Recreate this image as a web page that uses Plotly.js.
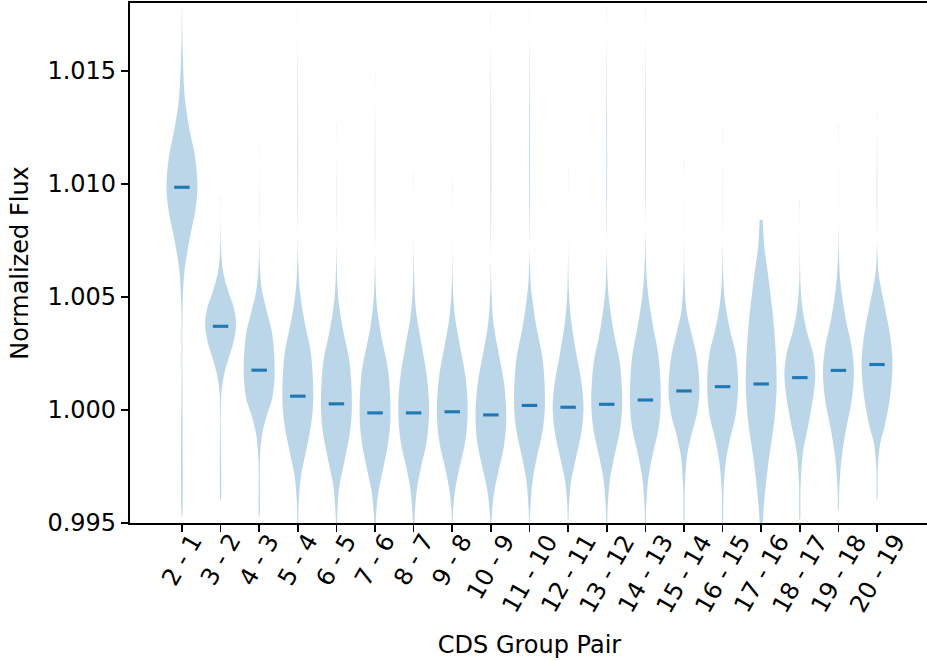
<!DOCTYPE html>
<html>
<head>
<meta charset="utf-8">
<script src="https://cdn.plot.ly/plotly-3.0.1.min.js"></script>
<style>
html, body { margin: 0; padding: 0; overflow: hidden; background: #fff; }
#chart { width: 929px; height: 661px; }
</style>
</head>
<body>
<div id="chart"></div>
<script>
// Category labels (x axis)
const categories = ['2 - 1', '3 - 2', '4 - 3', '5 - 4', '6 - 5', '7 - 6', '8 - 7', '9 - 8', '10 - 9',
  '11 - 10', '12 - 11', '13 - 12', '14 - 13', '15 - 14', '16 - 15', '17 - 16', '18 - 17', '19 - 18', '20 - 19'];

// Median normalized flux of each pair
const medians = [1.00985, 1.00370, 1.00176, 1.00061, 1.00027, 0.99987, 0.99987, 0.99992, 0.99978,
  1.00020, 1.00012, 1.00025, 1.00044, 1.00084, 1.00103, 1.00115, 1.00143, 1.00175, 1.00201];

// Density outline of each violin: flux levels (top to bottom) ...
const profileY = [
  [1.01787, 1.01580, 1.01373, 1.01237, 1.01118, 1.00982, 1.00876, 1.00757, 1.00634, 1.00480, 0.99525],
  [1.00951, 1.00687, 1.00599, 1.00524, 1.00454, 1.00379, 1.00304, 1.00225, 1.00146, 1.00062, 0.99600],
  [1.01171, 1.00621, 1.00524, 1.00436, 1.00335, 1.00172, 1.00053, 0.99978, 0.99895, 0.99785, 0.99525],
  [1.01769, 1.00612, 1.00489, 1.00370, 1.00251, 1.00049, 0.99930, 0.99807, 0.99706, 0.99578, 0.99468],
  [1.01272, 1.00572, 1.00449, 1.00330, 1.00212, 1.00009, 0.99890, 0.99767, 0.99666, 0.99538, 0.99424],
  [1.01492, 1.00537, 1.00414, 1.00295, 1.00176, 0.99974, 0.99855, 0.99732, 0.99631, 0.99512, 0.99402],
  [1.01052, 1.00546, 1.00414, 1.00295, 1.00150, 1.00005, 0.99864, 0.99754, 0.99644, 0.99512, 0.99402],
  [1.01008, 1.00524, 1.00401, 1.00282, 1.00150, 0.99996, 0.99864, 0.99754, 0.99653, 0.99556, 0.99490],
  [1.01756, 1.00502, 1.00370, 1.00251, 1.00119, 0.99965, 0.99842, 0.99732, 0.99631, 0.99521, 0.99424],
  [1.01769, 1.00590, 1.00480, 1.00348, 1.00225, 1.00027, 0.99908, 0.99798, 0.99688, 0.99556, 0.99512],
  [1.01065, 1.00524, 1.00392, 1.00260, 1.00128, 1.00009, 0.99899, 0.99785, 0.99688, 0.99578, 0.99512],
  [1.01787, 1.00577, 1.00458, 1.00326, 1.00207, 1.00027, 0.99908, 0.99798, 0.99688, 0.99556, 0.99490],
  [1.01787, 1.00634, 1.00502, 1.00370, 1.00238, 1.00040, 0.99917, 0.99811, 0.99701, 0.99569, 0.99490],
  [1.01109, 1.00546, 1.00423, 1.00335, 1.00225, 1.00084, 0.99987, 0.99895, 0.99798, 0.99653, 0.99503],
  [1.01241, 1.00577, 1.00458, 1.00348, 1.00251, 1.00115, 0.99978, 0.99877, 0.99767, 0.99635, 0.99490],
  [1.00841, 1.00722, 1.00568, 1.00348, 1.00115, 0.99952, 0.99785, 0.99600, 0.99503, 0.99402],
  [1.00933, 1.00546, 1.00436, 1.00335, 1.00251, 1.00159, 1.00049, 0.99917, 0.99811, 0.99666, 0.99512],
  [1.01259, 1.00647, 1.00524, 1.00392, 1.00282, 1.00172, 1.00040, 0.99917, 0.99785, 0.99644, 0.99556],
  [1.01329, 1.00647, 1.00559, 1.00458, 1.00326, 1.00203, 1.00062, 0.99930, 0.99851, 0.99750, 0.99600]
];
// ... and relative density (fraction of the widest point) at those levels
const profileW = [
  [0.008, 0.05, 0.2, 0.5, 0.85, 1, 0.85, 0.5, 0.2, 0.05, 0.006],
  [0.008, 0.05, 0.2, 0.5, 0.85, 1, 0.85, 0.5, 0.2, 0.05, 0.008],
  [0.008, 0.05, 0.2, 0.5, 0.85, 1, 0.85, 0.5, 0.2, 0.05, 0.008],
  [0.008, 0.05, 0.2, 0.5, 0.85, 1, 0.85, 0.5, 0.2, 0.05, 0.008],
  [0.008, 0.05, 0.2, 0.5, 0.85, 1, 0.85, 0.5, 0.2, 0.05, 0.008],
  [0.008, 0.05, 0.2, 0.5, 0.85, 1, 0.85, 0.5, 0.2, 0.05, 0.008],
  [0.008, 0.05, 0.2, 0.5, 0.85, 1, 0.85, 0.5, 0.2, 0.05, 0.008],
  [0.008, 0.05, 0.2, 0.5, 0.85, 1, 0.85, 0.5, 0.2, 0.05, 0.008],
  [0.008, 0.05, 0.2, 0.5, 0.85, 1, 0.85, 0.5, 0.2, 0.05, 0.008],
  [0.008, 0.05, 0.2, 0.5, 0.85, 1, 0.85, 0.5, 0.2, 0.05, 0.008],
  [0.008, 0.05, 0.2, 0.5, 0.85, 1, 0.85, 0.5, 0.2, 0.05, 0.008],
  [0.008, 0.05, 0.2, 0.5, 0.85, 1, 0.85, 0.5, 0.2, 0.05, 0.008],
  [0.008, 0.05, 0.2, 0.5, 0.85, 1, 0.85, 0.5, 0.2, 0.05, 0.008],
  [0.008, 0.05, 0.2, 0.5, 0.85, 1, 0.85, 0.5, 0.2, 0.05, 0.008],
  [0.008, 0.05, 0.2, 0.5, 0.85, 1, 0.85, 0.5, 0.2, 0.05, 0.008],
  [0.1, 0.2, 0.5, 0.85, 1, 0.85, 0.5, 0.2, 0.1, 0.03],
  [0.008, 0.05, 0.2, 0.5, 0.85, 1, 0.85, 0.5, 0.2, 0.05, 0.008],
  [0.008, 0.05, 0.2, 0.5, 0.85, 1, 0.85, 0.5, 0.2, 0.05, 0.008],
  [0.008, 0.05, 0.2, 0.5, 0.85, 1, 0.85, 0.5, 0.2, 0.05, 0.008]
];

const yTicks = [0.995, 1.000, 1.005, 1.010, 1.015];

// ---- drawing ----
const VIOLIN_HALF = 0.4;   // half of the violin width (x units)
const MEDIAN_HALF = 0.2;   // half length of the median bar
const C0 = '#1f77b4';
const FONT = 'DejaVu Sans, sans-serif';

const positions = categories.map((c, i) => i + 1);
const traces = [];

categories.forEach((cat, i) => {
  const p = positions[i];
  const ys = profileY[i], ws = profileW[i];
  const xr = ws.map(w => p + w * VIOLIN_HALF);
  const xl = ws.map(w => p - w * VIOLIN_HALF).reverse();
  traces.push({
    type: 'scatter', mode: 'lines',
    x: xr.concat(xl),
    y: ys.concat(ys.slice().reverse()),
    fill: 'toself',
    fillcolor: 'rgba(31,119,180,0.3)',
    line: { width: 0, shape: 'spline', smoothing: 1, color: 'rgba(31,119,180,0)' },
    hoverinfo: 'skip', showlegend: false, name: cat
  });
});

const mx = [], my = [];
categories.forEach((cat, i) => {
  mx.push(positions[i] - MEDIAN_HALF, positions[i] + MEDIAN_HALF, null);
  my.push(medians[i], medians[i], null);
});
traces.push({
  type: 'scatter', mode: 'lines', x: mx, y: my,
  line: { color: C0, width: 3.1 }, hoverinfo: 'skip', showlegend: false, name: 'median'
});

// rotated category labels, centred under each tick (matplotlib style)
const annotations = categories.map((cat, i) => ({
  x: positions[i], xref: 'x', y: 0, yref: 'paper',
  text: cat, textangle: -60, showarrow: false,
  xanchor: 'center', yanchor: 'top', yshift: -4,
  font: { family: FONT, size: 24, color: '#000' }
}));

const layout = {
  width: 929, height: 661,
  margin: { l: 130, r: 0, t: 3, b: 138 },
  paper_bgcolor: '#ffffff', plot_bgcolor: '#ffffff',
  font: { family: FONT, size: 24, color: '#000' },
  showlegend: false,
  annotations: annotations,
  xaxis: {
    range: [-0.345, 20.345],
    tickmode: 'array', tickvals: positions, ticktext: categories,
    showticklabels: false,
    ticks: 'outside', ticklen: 7.5, tickwidth: 1.6, tickcolor: '#000',
    showline: true, linewidth: 1.6, linecolor: '#000', mirror: true,
    showgrid: false, zeroline: false, automargin: false,
    title: { text: 'CDS Group Pair', font: { family: FONT, size: 24, color: '#000' }, standoff: 105 }
  },
  yaxis: {
    range: [0.995, 1.0180],
    tickmode: 'array', tickvals: yTicks, ticktext: yTicks.map(v => v.toFixed(3)),
    ticks: 'outside', ticklen: 7.5, tickwidth: 1.6, tickcolor: '#000',
    showline: true, linewidth: 1.6, linecolor: '#000', mirror: true,
    showgrid: false, zeroline: false, automargin: false,
    tickfont: { family: FONT, size: 24, color: '#000' },
    title: { text: 'Normalized Flux', font: { family: FONT, size: 24, color: '#000' }, standoff: 12 }
  }
};

Plotly.newPlot('chart', traces, layout, { staticPlot: true, displayModeBar: false });
</script>
</body>
</html>
